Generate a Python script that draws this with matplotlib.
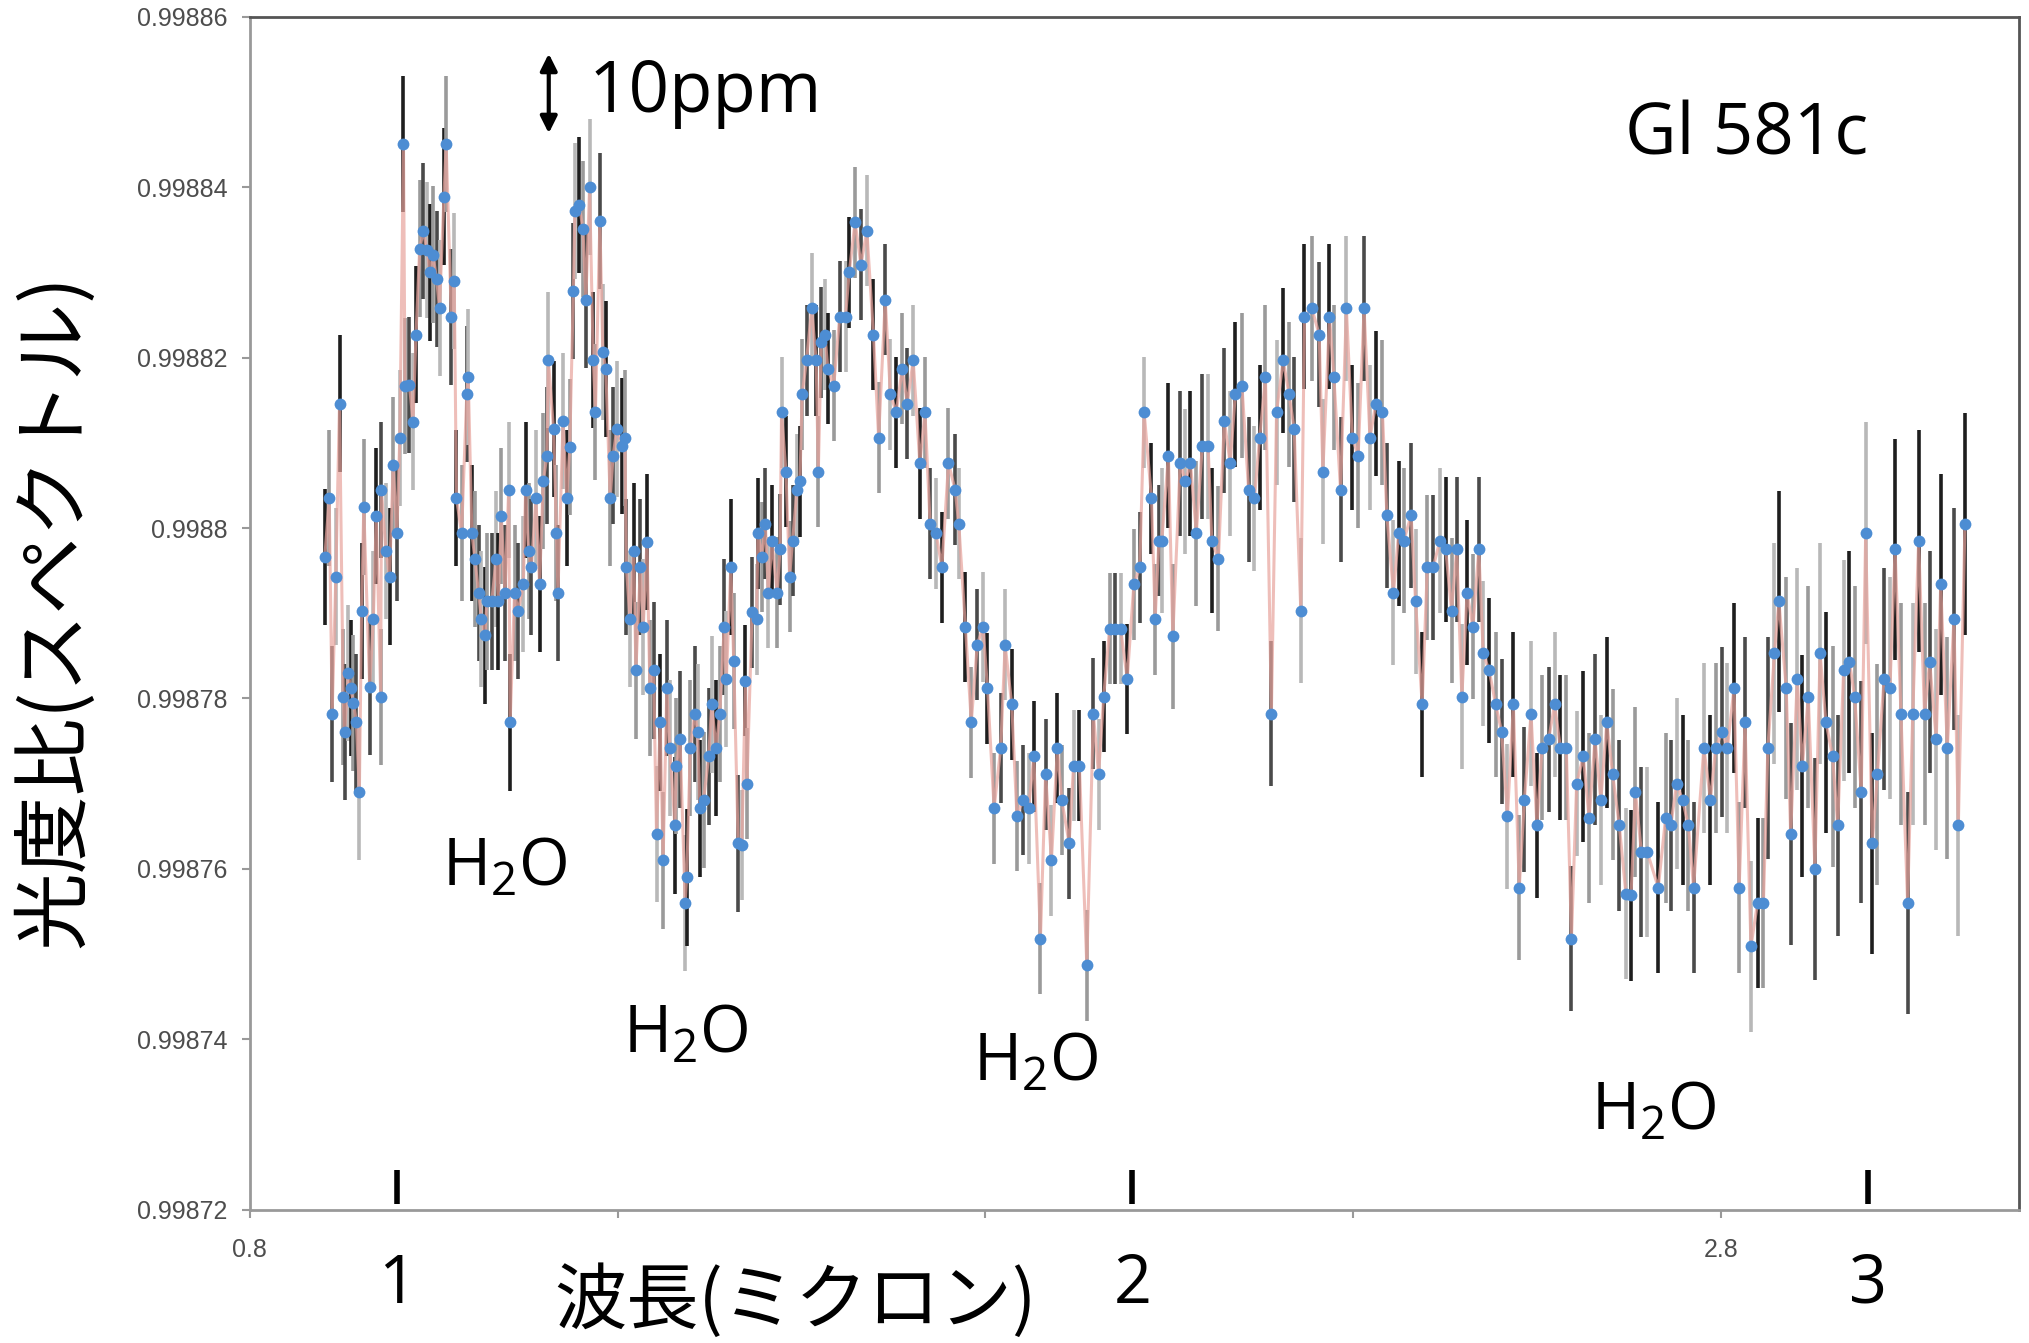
import numpy as np
import matplotlib.pyplot as plt
from matplotlib.ticker import FixedLocator, FuncFormatter
from matplotlib.transforms import blended_transform_factory

plt.rcParams['font.family'] = ['Liberation Sans', 'DejaVu Sans']
plt.rcParams['mathtext.fontset'] = 'custom'
plt.rcParams['mathtext.rm'] = 'Open Sans'
plt.rcParams['mathtext.it'] = 'Open Sans'

# wavelength (micron) and flux ratio given as ppm offset from 0.9988
wl_a = [0.902, 0.908, 0.912, 0.917, 0.922, 0.927, 0.929, 0.934, 0.937, 0.941,
        0.945, 0.949, 0.952, 0.955, 0.963, 0.968, 0.972, 0.978, 0.979, 0.985,
        0.990, 0.995, 1.000, 1.004, 1.009, 1.011, 1.017, 1.022, 1.026, 1.031,
        1.036, 1.041, 1.045, 1.049, 1.054, 1.058, 1.064, 1.067, 1.074, 1.078,
        1.081, 1.088, 1.095, 1.097, 1.102, 1.106, 1.111, 1.115, 1.120, 1.122,
        1.129, 1.135, 1.138, 1.142, 1.147, 1.152, 1.154, 1.160, 1.165, 1.172,
        1.175, 1.179, 1.183, 1.189, 1.194, 1.199, 1.204, 1.206, 1.213, 1.217,
        1.219, 1.226, 1.231, 1.235, 1.240, 1.242, 1.248, 1.253, 1.257, 1.262,
        1.267, 1.270, 1.276, 1.280, 1.284, 1.290, 1.294, 1.299, 1.306, 1.310,
        1.312, 1.317, 1.322, 1.325, 1.331, 1.335, 1.340, 1.344, 1.349, 1.353,
        1.358, 1.362, 1.367, 1.371, 1.378, 1.380, 1.385, 1.392, 1.394, 1.399,
        1.405, 1.409, 1.412, 1.417, 1.424, 1.428, 1.434, 1.439, 1.445, 1.448,
        1.454, 1.458, 1.464]
ppm_a = [-3.4, 3.5, -21.8, -5.7, 14.6, -19.8, -23.9, -17.0, -18.8, -20.5,
         -22.8, -31.0, -9.7, 2.5, -18.6, -10.7, 1.4, -19.8, 4.5, -2.7,
         -5.7, 7.4, -0.6, 10.6, 45.1, 16.7, 16.8, 12.5, 22.7, 32.8,
         34.9, 32.6, 30.0, 32.1, 29.2, 25.8, 38.9, 45.1, 24.8, 29.0,
         3.5, -0.6, 15.7, 17.7, -0.6, -3.6, -7.6, -10.7, -12.6, -8.6,
         -8.6, -3.6, -8.6, 1.4, -7.6, 4.5, -22.8, -7.6, -9.7, -6.6,
         4.5, -2.7, -4.6, 3.5, -6.6, 5.5, 8.5, 19.7, 11.6, -0.6,
         -7.6, 12.6, 3.5, 9.5, 27.8, 37.2, 37.9, 35.1, 26.8, 40.0,
         19.7, 13.6, 36.0, 20.7, 18.7, 3.5, 8.5, 11.6, 9.6, 10.6,
         -4.6, -10.7, -2.7, -16.7, -4.6, -11.6, -1.6, -18.8, -16.7, -35.9,
         -22.8, -39.0, -18.8, -25.8, -34.9, -27.9, -24.8, -44.0, -41.0, -25.8,
         -21.8, -23.9, -32.9, -31.9, -26.8, -20.7, -25.8, -21.8, -11.6, -17.7,
         -4.6, -15.6, -37.0]

wl_b = [1.469, 1.474, 1.476, 1.483, 1.489, 1.491, 1.496, 1.501, 1.505, 1.510,
        1.517, 1.521, 1.523, 1.529, 1.534, 1.538, 1.544, 1.548, 1.551, 1.557,
        1.564, 1.570, 1.573, 1.577, 1.582, 1.586, 1.594, 1.602, 1.610, 1.615,
        1.623, 1.631, 1.639, 1.648, 1.655, 1.664, 1.671, 1.679, 1.687, 1.694,
        1.702, 1.711, 1.718, 1.725, 1.733, 1.741, 1.750, 1.759, 1.764, 1.773,
        1.781, 1.789, 1.797, 1.803, 1.812, 1.821, 1.827, 1.836, 1.843, 1.851,
        1.859, 1.866, 1.875, 1.882, 1.890, 1.898, 1.904, 1.914, 1.920, 1.928,
        1.938, 1.947, 1.954, 1.961, 1.969, 1.977, 1.984, 1.993, 2.002, 2.010,
        2.016, 2.026, 2.031, 2.036]
ppm_b = [-37.2, -17.9, -30.0, -9.9, -10.7, -0.6, -3.4, 0.5, -7.6, -1.5,
         -7.6, -2.5, 13.6, 6.6, -5.7, -1.5, 4.5, 5.5, 15.7, 19.7,
         25.8, 19.7, 6.6, 21.8, 22.7, 18.7, 16.7, 24.8, 24.8, 30.0,
         35.9, 30.9, 34.9, 22.7, 10.6, 26.8, 15.7, 13.6, 18.7, 14.6,
         19.7, 7.6, 13.6, 0.5, -0.6, -4.6, 7.6, 4.5, 0.5, -11.6,
         -22.8, -13.7, -11.6, -18.8, -32.9, -25.8, -13.7, -20.7, -33.8, -31.9,
         -32.9, -26.8, -48.2, -28.9, -39.0, -25.8, -31.9, -37.0, -27.9, -27.9,
         -51.3, -21.8, -28.9, -19.8, -11.8, -11.8, -11.8, -17.7, -6.6, -4.6,
         13.6, 3.5, -10.7, -1.5]

wl_c = [2.040, 2.049, 2.055, 2.065, 2.072, 2.079, 2.087, 2.095, 2.103, 2.108,
        2.117, 2.125, 2.133, 2.140, 2.149, 2.158, 2.166, 2.173, 2.181, 2.189,
        2.196, 2.205, 2.213, 2.220, 2.229, 2.234, 2.244, 2.254, 2.259, 2.268,
        2.274, 2.283, 2.291, 2.299, 2.307, 2.315, 2.323, 2.331, 2.340, 2.346,
        2.355, 2.362, 2.369, 2.379, 2.385, 2.394, 2.401, 2.409, 2.418, 2.426,
        2.434, 2.441, 2.448, 2.455, 2.463, 2.471, 2.477, 2.485, 2.494, 2.502,
        2.510, 2.518, 2.526, 2.533, 2.542, 2.550, 2.557, 2.566, 2.574, 2.582,
        2.590, 2.597, 2.604]
ppm_c = [-1.5, 8.5, -12.7, 7.6, 5.5, 7.6, -0.6, 9.6, 9.6, -1.5,
         -3.6, 12.6, 7.6, 15.7, 16.7, 4.5, 3.5, 10.6, 17.7, -21.8,
         13.6, 19.7, 15.7, 11.6, -9.7, 24.8, 25.8, 22.7, 6.6, 24.8,
         17.7, 4.5, 25.8, 10.6, 8.5, 25.8, 10.6, 14.6, 13.6, 1.5,
         -7.6, -0.6, -1.5, 1.5, -8.6, -20.7, -4.6, -4.6, -1.5, -2.5,
         -9.7, -2.5, -19.8, -7.6, -11.6, -2.5, -14.7, -16.7, -20.7, -23.9,
         -33.8, -20.7, -42.2, -31.9, -21.8, -34.9, -25.8, -24.8, -20.7, -25.8,
         -25.8, -48.2, -30.0]

wl_d = [2.613, 2.621, 2.629, 2.637, 2.645, 2.653, 2.662, 2.671, 2.678, 2.684,
        2.692, 2.700, 2.715, 2.725, 2.732, 2.740, 2.748, 2.756, 2.763, 2.777,
        2.786, 2.793, 2.802, 2.809, 2.818, 2.825, 2.833, 2.841, 2.850, 2.858,
        2.864, 2.873, 2.879, 2.889, 2.895, 2.904, 2.911, 2.919, 2.928, 2.935,
        2.943, 2.952, 2.959, 2.967, 2.975, 2.982, 2.991, 2.997, 3.006, 3.013,
        3.022, 3.030, 3.037, 3.045, 3.054, 3.061, 3.069, 3.077, 3.084, 3.093,
        3.099, 3.108, 3.117, 3.123, 3.132]
ppm_d = [-26.8, -34.0, -24.8, -31.9, -22.8, -28.9, -34.9, -42.9, -43.1, -31.0,
         -38.0, -38.0, -42.2, -34.0, -34.9, -30.0, -31.9, -34.9, -42.2, -25.8,
         -31.9, -25.8, -23.9, -25.8, -18.8, -42.2, -22.8, -49.1, -44.0, -44.0,
         -25.8, -14.7, -8.6, -18.8, -35.9, -17.7, -27.9, -19.8, -40.0, -14.7,
         -22.8, -26.8, -34.9, -16.7, -15.7, -19.8, -31.0, -0.6, -37.0, -28.9,
         -17.7, -18.8, -2.5, -21.8, -44.0, -21.8, -1.5, -21.8, -15.7, -24.8,
         -6.6, -25.8, -10.7, -34.9, 0.5]

# typical half-length of the error bars in each stretch (ppm)
err_a = [8.0] * len(wl_a)
err_b = [6.5] * len(wl_b)
err_c = [8.5] * len(wl_c)
err_d = [10.0] * 30 + [13.0] * (len(wl_d) - 30)

yticks = [0.99872, 0.99874, 0.99876, 0.99878, 0.9988, 0.99882, 0.99884, 0.99886]
xticks = [0.8, 1.3, 1.8, 2.3, 2.8]
xticklabels = ['0.8', '', '', '', '2.8']

h2o_x = [1.1465, 1.393, 1.868, 2.7085]
h2o_y = [0.998760, 0.9987405, 0.9987372, 0.9987314]
micron_marks = [1, 2, 3]

wl = np.array(wl_a + wl_b + wl_c + wl_d)
flux = 0.9988 + np.array(ppm_a + ppm_b + ppm_c + ppm_d) * 1e-6
err = np.array(err_a + err_b + err_c + err_d) * 1e-6

fig = plt.figure(figsize=(20.29, 13.43), dpi=100)
ax = fig.add_axes([0.1231, 0.0992, 0.8718, 0.8883])

bar_cols = ['#1e1e1e', '#9a9a9a', '#4a4a4a', '#b8b8b8']
cols = [bar_cols[i % 4] for i in range(len(wl))]
ax.vlines(wl, flux - err, flux + err, colors=cols, lw=2.6, zorder=1)
ax.plot(wl, flux, color='#e8a39c', lw=2.2, alpha=0.7, zorder=2)
ax.plot(wl, flux, 'o', color='#4d8dd3', ms=8.5, mec='none', zorder=3)

ax.set_xlim(0.8, 3.205)
ax.set_ylim(0.99872, 0.99886)
ax.xaxis.set_major_locator(FixedLocator(xticks))
ax.set_xticklabels(xticklabels)
ax.yaxis.set_major_locator(FixedLocator(yticks))
ax.yaxis.set_major_formatter(FuncFormatter(lambda v, p: f'{v:.5f}'.rstrip('0')))
ax.tick_params(direction='out', length=6, width=1.5, color='#999999',
               labelcolor='#4d4d4d', labelsize=18, pad=10)
ax.tick_params(axis='x', pad=14)
for side in ['left', 'bottom']:
    ax.spines[side].set_color('#999999')
    ax.spines[side].set_linewidth(2)
for side in ['top', 'right']:
    ax.spines[side].set_color('#555555')
    ax.spines[side].set_linewidth(2)

big = dict(family=['Open Sans', 'DejaVu Sans'], color='black')

# 10 ppm scale arrow
ax.annotate('', xy=(1.2065, 0.998856), xytext=(1.2065, 0.998846),
            arrowprops=dict(arrowstyle='<|-|>', lw=3, color='black', mutation_scale=25))
ax.text(1.261, 0.998851, '10ppm', ha='left', va='center', fontsize=51, **big)
ax.text(2.835, 0.998846, 'Gl 581c', ha='center', va='center', fontsize=51, **big)

for x, y in zip(h2o_x, h2o_y):
    ax.text(x, y, r'H$_\mathrm{2}$O', ha='center', va='center', fontsize=47, **big)

trans = blended_transform_factory(ax.transData, ax.transAxes)
ax.vlines(micron_marks, 0.005, 0.033, colors='black', lw=4, transform=trans)
for m in micron_marks:
    ax.text(m, -0.063, str(m), ha='center', va='center', fontsize=48,
            transform=trans, clip_on=False, **big)

jp = ['Noto Sans CJK JP', 'DejaVu Sans']
fig.text(0.027, 0.545, '光度比(スペクトル)', rotation=90, ha='center', va='center',
         fontsize=56, family=jp)
fig.text(0.392, 0.031, '波長(ミクロン)', ha='center', va='center', fontsize=52, family=jp)

fig.savefig('out.png', dpi=100)
